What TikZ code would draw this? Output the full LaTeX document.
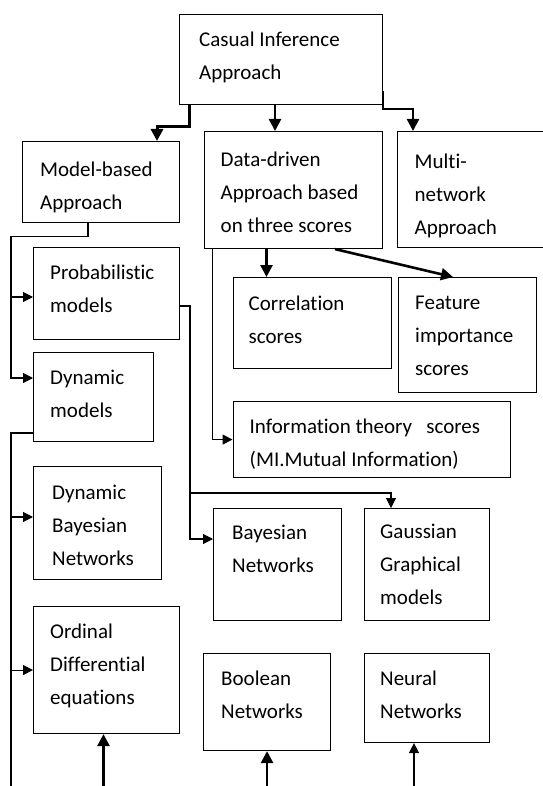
\documentclass[tikz,border=0pt]{standalone}
\usepackage{fontspec}
\setmainfont{Carlito}[Ligatures=NoCommon]
\usetikzlibrary{arrows.meta}

\tikzset{
    blk/.style={draw, line width=1.1pt, anchor=north west, inner sep=0pt},
    txt/.style={anchor=north west, inner sep=0pt, align=left,
        font=\fontsize{21pt}{33pt}\selectfont},
    thk/.style={line width=2.6pt, -{Triangle[width=12pt,length=12pt]}},
    thn/.style={line width=1.1pt},
    tip/.style={-{Triangle[width=10pt,length=10pt]}}
}

\begin{document}
\begin{tikzpicture}[x=1pt,y=-1pt]
        \useasboundingbox (0,0) rectangle (542,786);

        % boxes
        \node[blk, minimum width=203pt, minimum height=90pt] (cia) at (179,14) {};
        \node[blk, minimum width=157pt, minimum height=81pt] (mba) at (22,141) {};
        \node[blk, minimum width=178pt, minimum height=117pt] (dda) at (204,131) {};
        \node[blk, minimum width=150pt, minimum height=116pt] (mna) at (397,131) {};
        \node[blk, minimum width=146pt, minimum height=92pt] (prm) at (33,247) {};
        \node[blk, minimum width=120pt, minimum height=89pt] (dym) at (33,352) {};
        \node[blk, minimum width=128pt, minimum height=113pt] (dbn) at (33,466) {};
        \node[blk, minimum width=146pt, minimum height=127pt] (ode) at (33,606) {};
        \node[blk, minimum width=158pt, minimum height=91pt] (cor) at (232.5,277) {};
        \node[blk, minimum width=138pt, minimum height=115pt] (fis) at (397.5,277) {};
        \node[blk, minimum width=277pt, minimum height=76pt] (its) at (232.5,401) {};
        \node[blk, minimum width=128pt, minimum height=112pt] (bay) at (213,508) {};
        \node[blk, minimum width=125pt, minimum height=112pt] (ggm) at (364,508) {};
        \node[blk, minimum width=127pt, minimum height=97pt] (bol) at (203,653) {};
        \node[blk, minimum width=125pt, minimum height=89pt] (nen) at (364,653) {};

        % texts
        \node[txt] (cia-t) at ([xshift=20pt,yshift=-18pt]cia.north west) {Casual Inference\\Approach};
        \node[txt] (mba-t) at ([xshift=18pt,yshift=-21pt]mba.north west) {Model-based\\Approach};
        \node[txt] (dda-t) at ([xshift=16.5pt,yshift=-21pt]dda.north west) {Data-driven\\Approach based\\on three scores};
        \node[txt] (mna-t) at ([xshift=17.5pt,yshift=-23pt]mna.north west) {Multi-\\network\\Approach};
        \node[txt] (prm-t) at ([xshift=17pt,yshift=-18pt]prm.north west) {Probabilistic\\models};
        \node[txt] (dym-t) at ([xshift=17pt,yshift=-18pt]dym.north west) {Dynamic\\models};
        \node[txt] (dbn-t) at ([xshift=19pt,yshift=-19pt]dbn.north west) {Dynamic\\Bayesian\\Networks};
        \node[txt] (ode-t) at ([xshift=17pt,yshift=-18pt]ode.north west) {Ordinal\\Differential\\equations};
        \node[txt] (cor-t) at ([xshift=16pt,yshift=-19pt]cor.north west) {Correlation\\scores};
        \node[txt] (fis-t) at ([xshift=17.5pt,yshift=-19pt]fis.north west) {Feature\\importance\\scores};
        \node[txt] (its-t) at ([xshift=17pt,yshift=-18pt]its.north west) {Information theory \ \ scores\\(MI.Mutual Information)};
        \node[txt] (bay-t) at ([xshift=19pt,yshift=-16.5pt]bay.north west) {Bayesian\\Networks};
        \node[txt] (ggm-t) at ([xshift=16pt,yshift=-16pt]ggm.north west) {Gaussian\\Graphical\\models};
        \node[txt] (bol-t) at ([xshift=18pt,yshift=-18pt]bol.north west) {Boolean\\Networks};
        \node[txt] (nen-t) at ([xshift=16pt,yshift=-18pt]nen.north west) {Neural\\Networks};

        % bus ends
        \coordinate (lbus) at (11,786);
        \coordinate (pj) at (190,493);

        % arrows from the top box
        \draw[thk, line width=3pt] ([xshift=10.5pt]cia.south west) -- ++(0,21) -| ([xshift=135pt]mba.north west);
        \draw[thk] ([xshift=96pt]cia.south west) -- ([xshift=71pt]dda.north west);
        \draw[thk] ([yshift=14pt]cia.south east) -- ++(0,18) -| ([xshift=16pt]mna.north west);

        % model based side
        \draw[thn, tip] ([xshift=66pt]mba.south west) -- ++(0,13) -- ++(-77,0) |- ([yshift=-26pt]dym.north west);
        \draw[thn, tip] ([xshift=-22pt,yshift=-50pt]prm.north west) -- ([yshift=-50pt]prm.north west);
        \draw[thn] ([yshift=-81pt]dym.north west) -| (lbus);
        \draw[thn, tip] ([xshift=-22pt,yshift=-51pt]dbn.north west) -- ([yshift=-51pt]dbn.north west);
        \draw[thn, tip] ([xshift=-22pt]ode.west) -- (ode.west);
        \draw[thn, tip] ([yshift=-59pt]prm.north east) -| (pj) |- ([yshift=-31pt]bay.north west);
        \draw[thn, tip] (pj) -| ([xshift=27pt]ggm.north west);

        % data driven side
        \draw[thk] ([xshift=62.5pt]dda.south west) -- ([xshift=34pt]cor.north west);
        \draw[thk] ([xshift=131pt]dda.south west) -- ([xshift=55.5pt]fis.north west);
        \draw[thn, tip] ([xshift=8.5pt]dda.south west) |- (its.west);

        % arrows from below
        \draw[thk] ([xshift=70.5pt]ode.south west |- lbus) -- ([xshift=70.5pt]ode.south west);
        \draw[thk] (bol.south |- lbus) -- (bol.south);
        \draw[thn, tip] ([xshift=50pt]nen.south west |- lbus) -- ([xshift=50pt]nen.south west);
    \end{tikzpicture}
\end{document}
